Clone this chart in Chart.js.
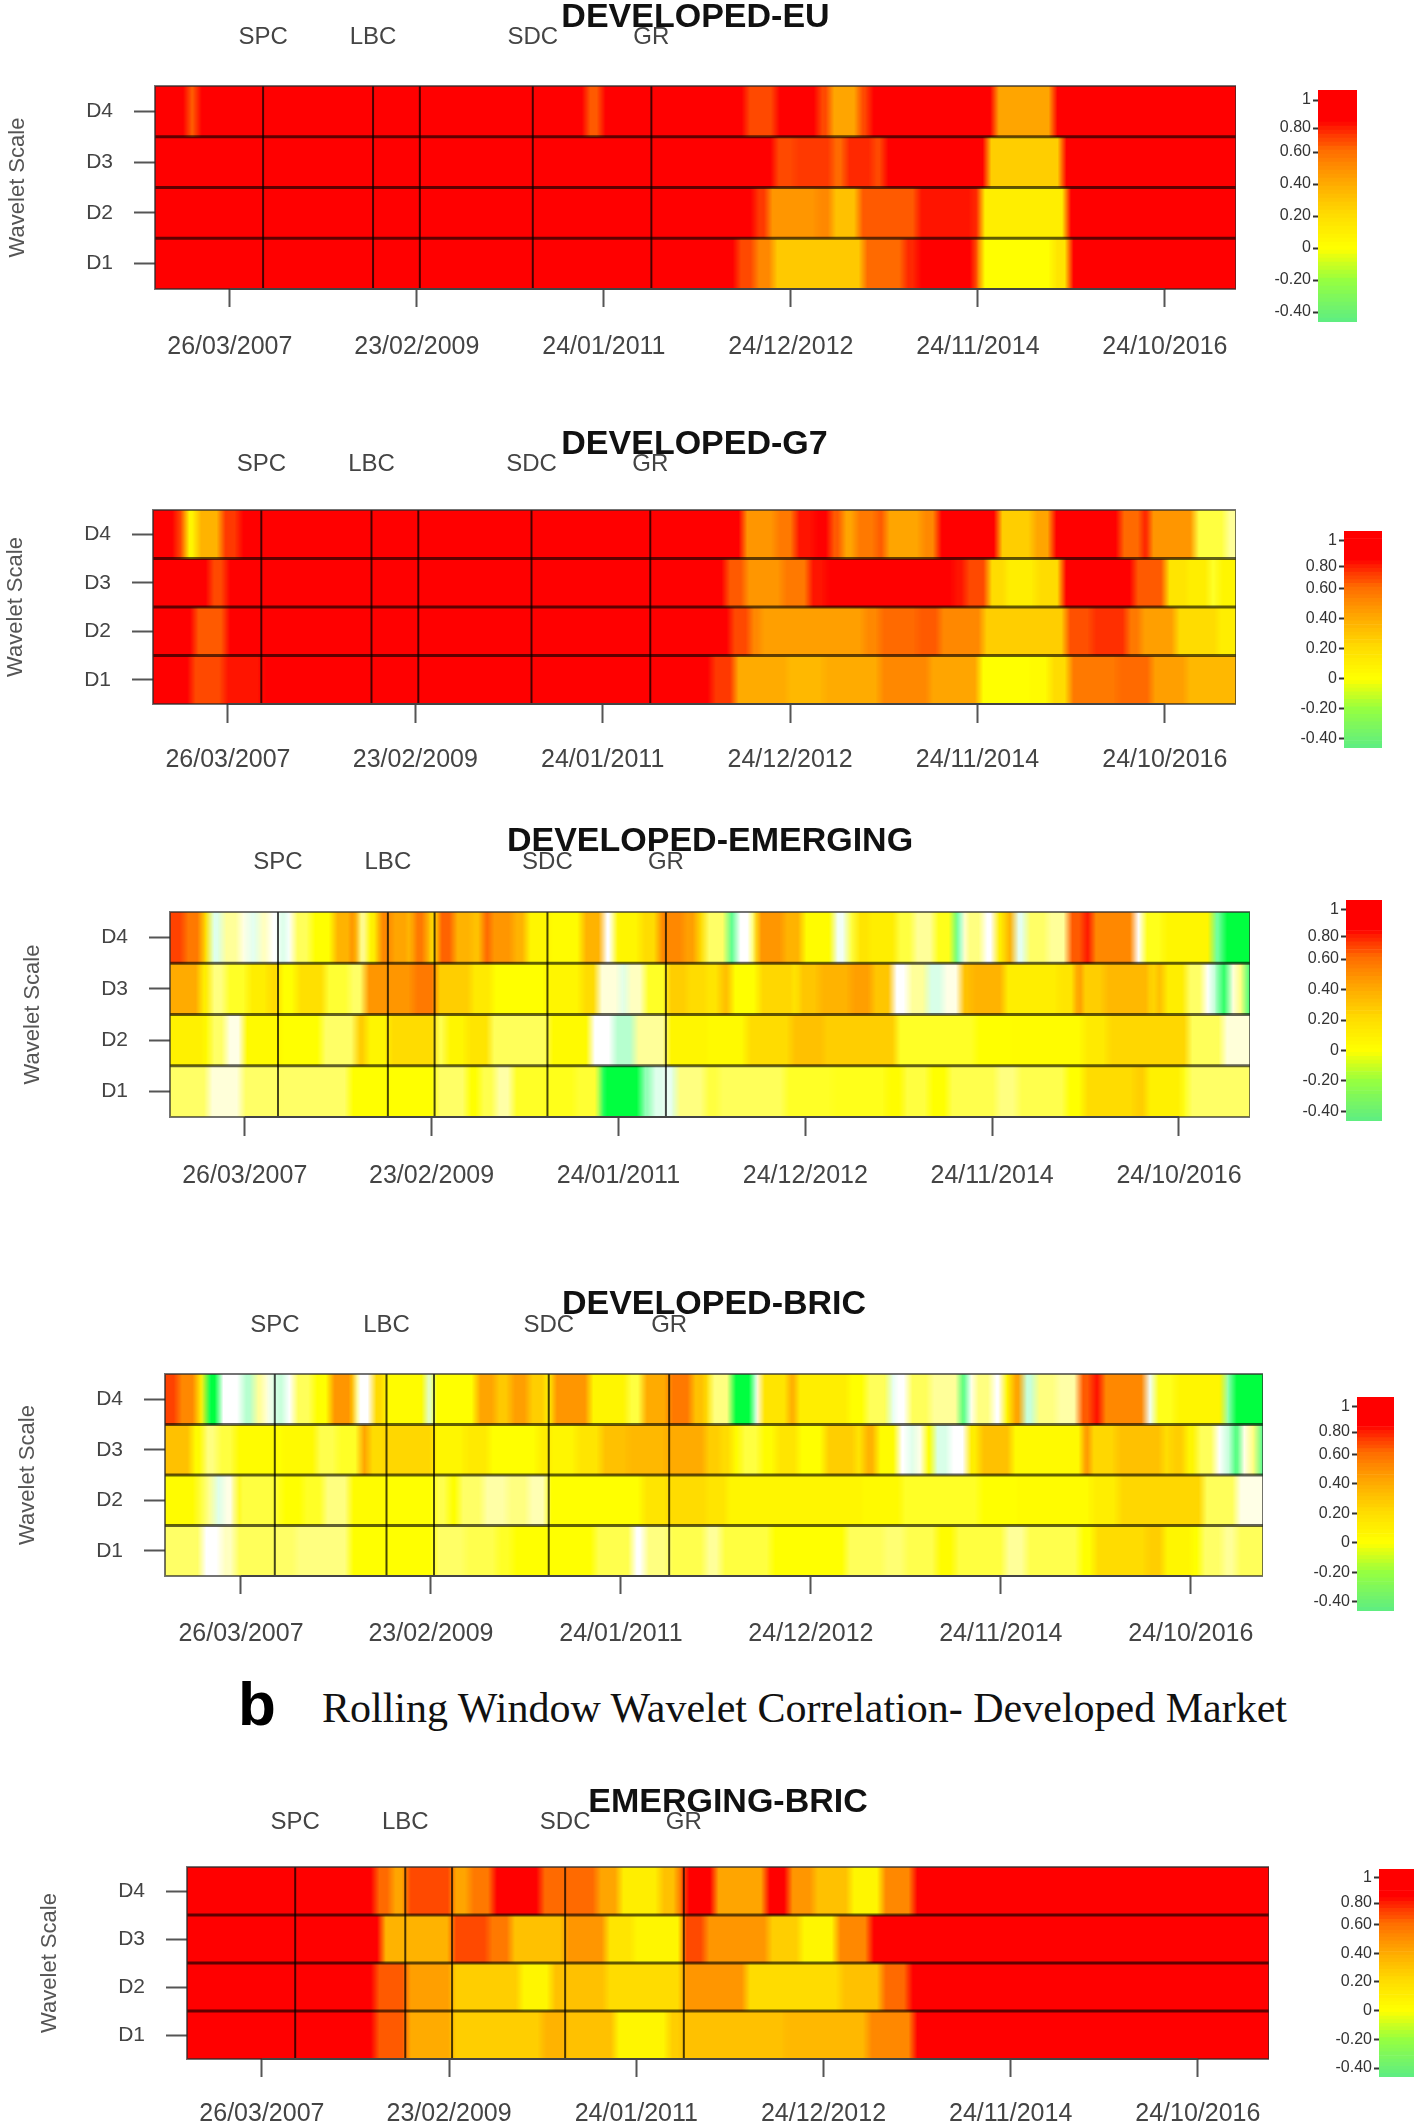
<!DOCTYPE html>
<html>
<head>
<meta charset="utf-8">
<title>Rolling Window Wavelet Correlation</title>
<script src="https://cdn.jsdelivr.net/npm/chart.js@4"></script>
<style>
  html, body { margin: 0; background: #fff; }
  #page { position: relative; width: 1418px; height: 2123px; overflow: hidden; }
  canvas { position: absolute; filter: blur(0.6px); }
  .mark { position: absolute; left: 238px; top: 1668px; font: bold 62px "Liberation Sans", sans-serif; color: #000; }
  .caption { position: absolute; left: 322px; top: 1684px; font: 42px "Liberation Serif", serif; color: #111; white-space: nowrap; }
</style>
</head>
<body>
<div id="page">
  <div class="mark">b</div>
  <div class="caption">Rolling Window Wavelet Correlation- Developed Market</div>
</div>
<script>
const obsCount = 2890;
const scaleLabels = ["D4", "D3", "D2", "D1"];
const xTickObs = [200, 700, 1200, 1700, 2200, 2700];
const xTickDates = ["26/03/2007", "23/02/2009", "24/01/2011", "24/12/2012", "24/11/2014", "24/10/2016"];
const eventObs = [289, 583, 708, 1010, 1327];
const eventNames = ["SPC", "LBC", "", "SDC", "GR"];

// correlation per block: a block runs from its start observation to the next start
const euD4Start = [0,87,114,1153,1194,1580,1660,1773,1805,1882,1911,2245,2402];
const euD4Corr = [1,.65,1,.65,1,.7,1,.7,.4,.7,1,.4,1];
const euD3Start = [0,1657,1713,1810,1846,1918,1950,2225,2426];
const euD3Corr = [1,.7,.75,.6,.8,.7,1,.25,1];
const euD2Start = [0,1604,1640,1773,1810,1882,2039,2184,2208,2438];
const euD2Corr = [1,.75,.45,.5,.3,.65,.85,.8,.1,1];
const euD1Start = [0,1556,1604,1653,1894,2003,2039,2191,2208,2402,2445];
const euD1Corr = [1,.7,.5,.27,.6,.8,1,.6,0,.15,1];

const g7D4Start = [0,63,86,118,183,231,1575,1663,1714,1765,1807,1839,1876,1932,1955,2052,2094,2256,2349,2400,2581,2641,2659,2780,2863];
const g7D4Corr = [1,.7,.05,.35,.75,1,.45,.55,.85,1,.65,.4,.55,.65,.4,.5,1,.25,.4,1,.6,.85,.45,-.05,-.12];
const g7D3Start = [0,152,195,267,1529,1580,1681,1751,1797,1871,1885,2062,2136,2168,2228,2275,2358,2426,2581,2618,2702,2757,2817,2845];
const g7D3Corr = [1,.7,.9,1,.65,.45,.55,.85,1,.9,1,.9,.85,.7,.2,.1,.2,1,.95,.65,.15,.1,-.03,.05];
const g7D2Start = [0,111,195,1542,1593,1621,1774,1899,1941,2043,2099,2214,2437,2507,2599,2636,2729,2840];
const g7D2Corr = [1,.65,.92,.7,.5,.42,.42,.5,.6,.65,.5,.25,.68,.78,.55,.42,.2,.1];
const g7D1Start = [0,103,190,292,1491,1552,1691,1793,1941,2071,2205,2349,2395,2446,2576,2664,2757];
const g7D1Corr = [1,.7,.85,1,.75,.38,.33,.38,.5,.4,0,.02,.2,.55,.6,.42,.33];

const emD4Start = [0,38,85,103,108,140,187,210,238,266,294,312,331,378,438,489,500,508,526,550,559,592,638,652,685,703,717,759,805,838,857,917,954,1015,1103,1159,1187,1196,1261,1308,1373,1410,1432,1492,1516,1558,1572,1641,1692,1776,1813,1837,1869,1944,1990,2046,2097,2116,2130,2176,2209,2236,2260,2292,2348,2404,2446,2467,2581,2604,2660,2790,2818];
const emD4Corr = [.72,.55,.2,-.02,-.25,-.12,-.18,-.24,-.15,-.2,-.26,-.2,-.07,0,.35,.55,.05,-.15,.05,.15,.5,.4,.3,.55,.3,.1,.62,.35,.3,.62,.45,.35,.05,.02,.35,-.2,-.02,.05,.2,.5,.42,.2,-.08,-.33,-.2,-.03,.45,.35,.02,-.22,-.05,.15,.1,-.05,-.12,-.02,-.33,-.2,-.1,-.2,.1,.35,-.24,-.08,-.12,.65,.85,.5,-.2,-.02,.05,-.32,-.4];
const emD3Start = [0,80,108,150,210,266,294,340,415,480,522,587,652,712,805,861,1010,1103,1145,1205,1224,1270,1331,1382,1432,1474,1502,1576,1669,1683,1739,1823,1878,1934,1976,2027,2069,2116,2148,2232,2381,2425,2439,2502,2622,2636,2660,2720,2767,2790,2808,2834,2855,2878];
const emD3Corr = [.38,.1,-.1,-.03,.1,.2,0,.18,-.04,-.08,.45,.45,.55,.25,.12,0,.05,.2,-.17,-.25,-.15,-.03,.25,.2,.15,.3,0,.22,.1,.28,.35,.42,.28,-.2,-.12,-.26,-.18,.3,.35,.1,.15,.5,.25,.33,.15,.3,.1,-.08,-.2,-.28,-.36,-.18,-.1,-.35];
const emD2Start = [0,89,108,150,196,294,406,498,526,587,712,740,796,857,1015,1126,1187,1243,1331,1432,1544,1664,1748,1944,2157,2260,2446,2511,2725,2818];
const emD2Corr = [.08,.02,-.08,-.18,.03,0,-.08,.25,.05,.2,-.06,.05,.15,-.07,.03,-.2,-.28,-.12,.05,.03,.2,.3,.25,-.03,0,.02,.12,.22,-.07,-.17];
const emD1Start = [0,103,192,294,480,587,712,796,829,871,917,1010,1084,1150,1159,1261,1289,1326,1336,1354,1432,1469,1646,1776,1920,1962,2032,2083,2213,2269,2399,2446,2585,2613,2706,2725];
const emD1Corr = [-.08,-.17,-.08,-.08,0,0,-.08,0,-.06,-.13,-.03,-.02,-.04,-.34,-.4,-.3,-.25,-.2,-.25,-.1,-.05,-.07,-.03,-.02,.02,-.05,0,-.06,-.1,-.06,0,.2,.25,.08,-.02,-.08];

const brD4Start = [0,34,84,107,111,143,203,235,262,280,294,317,340,390,436,495,504,546,578,687,706,820,870,911,957,1003,1021,1117,1217,1258,1327,1386,1422,1436,1492,1549,1568,1643,1661,1798,1845,1906,1920,1957,2014,2093,2112,2131,2178,2206,2229,2258,2291,2347,2406,2441,2466,2582,2605,2661,2788,2810];
const brD4Corr = [.72,.5,.1,-.3,-.4,-.2,-.28,-.12,-.18,-.25,-.27,-.2,-.07,0,.45,.05,-.2,.2,.02,-.25,0,.4,.27,.42,.25,.05,.45,.05,-.05,.38,.55,.3,.15,-.1,-.4,-.2,.15,.4,.1,0,-.07,-.25,-.2,-.07,-.12,-.35,-.2,-.1,-.2,.05,.4,-.27,-.1,-.13,.65,.85,.5,-.22,-.02,.05,-.3,-.4];
const brD3Start = [0,70,102,139,185,290,317,399,454,514,536,582,706,792,852,984,1012,1085,1149,1222,1322,1422,1460,1492,1516,1568,1610,1666,1737,1816,1840,1873,1929,1957,1976,2000,2023,2065,2112,2145,2228,2417,2434,2506,2624,2652,2685,2716,2765,2788,2812,2830,2854,2877];
const brD3Corr = [.3,.02,-.1,-.05,.02,0,.03,-.06,-.03,.4,.2,.22,.05,.12,0,.1,.05,.15,.3,.33,.38,.25,.2,.02,-.05,.02,.15,0,.25,.15,.35,.02,-.2,-.25,-.18,0,-.26,-.2,.1,.3,.03,.5,.22,.3,.2,.25,.05,-.07,-.2,-.27,-.36,-.18,-.1,-.33];
const brD2Start = [0,84,107,130,153,185,194,290,308,363,418,486,582,710,747,774,838,902,957,1007,1258,1327,1422,1478,1830,1938,2145,2253,2441,2511,2732,2821];
const brD2Corr = [.02,-.05,-.12,-.25,-.18,.02,-.05,-.03,0,-.03,-.1,.02,0,-.06,0,-.08,-.13,-.1,-.14,0,.15,.2,.15,.05,.03,-.03,0,.02,.1,.22,-.07,-.18];
const brD1Start = [0,98,148,185,290,344,486,582,710,792,875,916,1007,1131,1231,1263,1327,1422,1464,1596,1793,1892,1948,2032,2079,2211,2267,2408,2446,2586,2628,2699,2727,2784,2821];
const brD1Corr = [-.08,-.2,-.15,-.07,-.08,-.1,0,0,-.08,-.06,-.03,0,0,-.06,-.2,-.1,-.06,-.12,-.05,0,-.07,-.09,-.06,.02,-.05,-.12,-.06,0,.2,.25,.05,0,-.08,-.12,-.07];

const ebD4Start = [0,503,546,587,708,756,817,945,1010,1095,1155,1264,1312,1331,1409,1546,1607,1674,1771,1856,1940];
const ebD4Corr = [1,.6,.4,.7,.4,.55,.9,.6,.6,.4,.1,.3,.6,1,.4,1,.45,.3,.05,.5,1];
const ebD3Start = [0,520,587,708,805,865,1010,1119,1191,1324,1384,1553,1638,1735,1824];
const ebD3Corr = [1,.35,.35,.7,.55,.3,.45,.15,.05,.7,.45,.25,.05,.5,1];
const ebD2Start = [0,503,587,708,889,974,1010,1119,1324,1493,1747,1856,1928];
const ebD2Corr = [1,.65,.42,.25,.05,.3,.3,.2,.45,.2,.3,.6,1];
const ebD1Start = [0,503,587,708,950,1010,1143,1286,1324,1602,1819,1940];
const ebD1Corr = [1,.65,.38,.25,.35,.3,.05,.25,.3,.33,.5,1];

// colour bar levels, top to bottom, and the ones that carry a label
const legendLevels = [1.02,1.01,1,.97,.94,.91,.88,.85,.83,.8,.77,.73,.7,.67,.63,.6,.58,.55,.52,.5,.47,.45,.42,.4,.37,.35,.32,.3,.27,.25,.22,.2,.17,.15,.12,.1,.07,.05,.02,0,-.02,-.05,-.07,-.1,-.12,-.15,-.17,-.2,-.22,-.25,-.27,-.3,-.32,-.35,-.37,-.4,-.42,-.45];
const legendTicks = [1,.8,.6,.4,.2,0,-.2,-.4];
const legendTickText = ["1","0.80","0.60","0.40","0.20","0","-0.20","-0.40"];

const heatStops = [[-.4,[0,255,64]],[-.33,[96,255,144]],[-.26,[216,255,232]],[-.2,[255,255,255]],[-.1,[255,255,128]],[0,[255,255,0]],[.2,[255,220,0]],[.4,[255,165,0]],[.6,[255,106,0]],[.8,[255,40,0]],[.9,[255,0,0]],[1.1,[255,0,0]]];
const legendStops = [[-.45,[96,238,128]],[-.2,[150,255,64]],[0,[255,255,0]],[.2,[255,221,0]],[.4,[255,170,0]],[.6,[255,112,0]],[.8,[255,30,0]],[.85,[255,0,0]],[1.1,[255,0,0]]];

function colorFrom(stops, v) {
  let i = 1;
  while (i < stops.length - 1 && v > stops[i][0]) i++;
  const [a, ca] = stops[i - 1];
  const [b, cb] = stops[i];
  const t = Math.max(0, Math.min(1, (v - a) / (b - a)));
  const c = ca.map((x, k) => Math.round(x + (cb[k] - x) * t));
  return `rgb(${c[0]},${c[1]},${c[2]})`;
}

function rowDataset(label, starts, corr) {
  if (starts.length !== corr.length) throw new Error("length mismatch " + label);
  return {
    label: label,
    data: starts.map((s, i) => ({ x: [s, i + 1 < starts.length ? starts[i + 1] : obsCount], y: label })),
    backgroundColor: corr.map((v) => colorFrom(heatStops, v)),
    borderWidth: 0,
    grouped: false,
    categoryPercentage: 1,
    barPercentage: 1,
  };
}

// the source image is interpolated along time, so soften the blocks sideways only
function smoothBlocks(chart, radius) {
  const { ctx, canvas, chartArea: area } = chart;
  const w = Math.round(area.right - area.left);
  const h = Math.round(area.bottom - area.top);
  const copy = document.createElement("canvas");
  copy.width = w;
  copy.height = h;
  copy.getContext("2d").drawImage(canvas, area.left, area.top, w, h, 0, 0, w, h);
  ctx.save();
  ctx.beginPath();
  ctx.rect(area.left, area.top, w, h);
  ctx.clip();
  let n = 1;
  for (let d = -radius; d <= radius; d++) {
    ctx.globalAlpha = 1 / n;
    ctx.drawImage(copy, area.left + d, area.top);
    n++;
  }
  ctx.restore();
}

// event lines, row separators and the SPC/LBC/SDC/GR labels
const panelLines = {
  id: "panelLines",
  afterDatasetsDraw(chart, args, opts) {
    smoothBlocks(chart, 4);
    const { ctx, chartArea: area, scales: { x, y } } = chart;
    ctx.save();
    ctx.strokeStyle = "rgba(0,0,0,0.72)";
    ctx.lineWidth = 2;
    eventObs.forEach((o) => {
      const px = x.getPixelForValue(o);
      ctx.beginPath();
      ctx.moveTo(px, area.top);
      ctx.lineTo(px, area.bottom);
      ctx.stroke();
    });
    ctx.strokeStyle = "rgba(0,0,0,0.62)";
    ctx.lineWidth = 3;
    for (let i = 0; i < scaleLabels.length - 1; i++) {
      const py = (y.getPixelForValue(i) + y.getPixelForValue(i + 1)) / 2;
      ctx.beginPath();
      ctx.moveTo(area.left, py);
      ctx.lineTo(area.right, py);
      ctx.stroke();
    }
    ctx.lineWidth = 2;
    ctx.strokeStyle = "rgba(40,40,40,0.65)";
    ctx.strokeRect(area.left, area.top, area.right - area.left, area.bottom - area.top);
    ctx.strokeStyle = "#444";
    ctx.beginPath();
    ctx.moveTo(x.getPixelForValue(xTickObs[0]), area.bottom);
    ctx.lineTo(x.getPixelForValue(xTickObs[xTickObs.length - 1]), area.bottom);
    ctx.stroke();
    ctx.fillStyle = "#444";
    ctx.font = '24px "Liberation Sans"';
    ctx.textAlign = "center";
    ctx.textBaseline = "middle";
    eventObs.forEach((o, i) => {
      if (eventNames[i]) ctx.fillText(eventNames[i], x.getPixelForValue(o), opts.labelY);
    });
    ctx.restore();
  },
};

Chart.defaults.font.family = '"Liberation Sans", Arial, sans-serif';
Chart.defaults.animation = false;
Chart.defaults.responsive = false;

const page = document.getElementById("page");

function addCanvas(left, top, width, height) {
  const c = document.createElement("canvas");
  c.width = Math.round(width);
  c.height = Math.round(height);
  c.style.left = left + "px";
  c.style.top = top + "px";
  page.appendChild(c);
  return c;
}

function drawPanel(p) {
  const axisWidth = 155;
  const top = p.titleY - 17;
  const canvas = addCanvas(p.left - axisWidth, top, axisWidth + p.right - p.left, p.labelY + 30 - top);
  new Chart(canvas, {
    type: "bar",
    data: { labels: scaleLabels, datasets: p.rows },
    plugins: [panelLines],
    options: {
      indexAxis: "y",
      layout: { padding: 0 },
      scales: {
        x: {
          type: "linear",
          min: 0,
          max: obsCount,
          border: { display: false },
          grid: { drawOnChartArea: false, tickLength: p.tickEnd - p.bottom, tickColor: "#555", tickWidth: 2 },
          afterBuildTicks: (axis) => { axis.ticks = xTickObs.map((value) => ({ value })); },
          afterFit: (axis) => {
            axis.height = p.labelY + 30 - p.bottom;
            axis.paddingLeft = 0;
            axis.paddingRight = 0;
          },
          ticks: {
            autoSkip: false,
            maxRotation: 0,
            color: "#444",
            font: { size: 25 },
            padding: p.labelY - p.tickEnd - 13,
            callback: (value) => xTickDates[xTickObs.indexOf(value)],
          },
        },
        y: {
          border: { display: false },
          grid: { offset: false, drawOnChartArea: false, tickLength: 21, tickColor: "#555", tickWidth: 2 },
          afterFit: (axis) => { axis.width = axisWidth; },
          ticks: { color: "#444", font: { size: 21 }, padding: 21 },
          title: { display: true, text: "Wavelet Scale", color: "#555", font: { size: 22 }, padding: { top: 5, bottom: 0 } },
        },
      },
      plugins: {
        legend: { display: false },
        tooltip: { enabled: false },
        panelLines: { labelY: p.eventY - top },
        title: {
          display: true,
          text: p.title,
          fullSize: false,
          color: "#111",
          font: { size: 34, weight: "bold", lineHeight: 1 },
          padding: { top: 0, bottom: p.top - top - 34 },
        },
      },
    },
  });
}

function drawLegend(b) {
  const axisWidth = 58;
  const canvas = addCanvas(b.left - axisWidth, b.top - 12, axisWidth + b.width, b.height + 24);
  new Chart(canvas, {
    type: "bar",
    data: {
      labels: legendLevels.map(String),
      datasets: [{
        data: legendLevels.map(() => [0, 1]),
        backgroundColor: legendLevels.map((v) => colorFrom(legendStops, v)),
        borderWidth: 0,
        categoryPercentage: 1,
        barPercentage: 1,
      }],
    },
    options: {
      indexAxis: "y",
      layout: { padding: { top: 12, bottom: 12 } },
      scales: {
        x: { display: false, min: 0, max: 1 },
        y: {
          border: { display: false },
          grid: {
            offset: false,
            drawOnChartArea: false,
            tickLength: 5,
            tickWidth: 2,
            tickColor: (ctx) => (legendTicks.includes(legendLevels[ctx.index]) ? "#333" : "rgba(0,0,0,0)"),
          },
          afterFit: (axis) => { axis.width = axisWidth; },
          ticks: {
            autoSkip: false,
            color: "#333",
            padding: 2,
            font: { size: 16 },
            callback: (value, i) => {
              const k = legendTicks.indexOf(legendLevels[i]);
              return k < 0 ? "" : legendTickText[k];
            },
          },
        },
      },
      plugins: { legend: { display: false }, tooltip: { enabled: false } },
    },
  });
}

const rows = (d4s, d4c, d3s, d3c, d2s, d2c, d1s, d1c) => [
  rowDataset("D4", d4s, d4c),
  rowDataset("D3", d3s, d3c),
  rowDataset("D2", d2s, d2c),
  rowDataset("D1", d1s, d1c),
];

drawPanel({ title: "DEVELOPED-EU", left: 155, right: 1236, top: 86, bottom: 289, tickEnd: 307, titleY: 18, eventY: 37, labelY: 345,
  rows: rows(euD4Start, euD4Corr, euD3Start, euD3Corr, euD2Start, euD2Corr, euD1Start, euD1Corr) });
drawPanel({ title: "DEVELOPED-G7", left: 153, right: 1236, top: 510, bottom: 704, tickEnd: 723, titleY: 445, eventY: 464, labelY: 758,
  rows: rows(g7D4Start, g7D4Corr, g7D3Start, g7D3Corr, g7D2Start, g7D2Corr, g7D1Start, g7D1Corr) });
drawPanel({ title: "DEVELOPED-EMERGING", left: 170, right: 1250, top: 912, bottom: 1117, tickEnd: 1136, titleY: 842, eventY: 862, labelY: 1174,
  rows: rows(emD4Start, emD4Corr, emD3Start, emD3Corr, emD2Start, emD2Corr, emD1Start, emD1Corr) });
drawPanel({ title: "DEVELOPED-BRIC", left: 165, right: 1263, top: 1374, bottom: 1576, tickEnd: 1594, titleY: 1305, eventY: 1325, labelY: 1632,
  rows: rows(brD4Start, brD4Corr, brD3Start, brD3Corr, brD2Start, brD2Corr, brD1Start, brD1Corr) });
drawPanel({ title: "EMERGING-BRIC", left: 187, right: 1269, top: 1867, bottom: 2059, tickEnd: 2077, titleY: 1803, eventY: 1822, labelY: 2112,
  rows: rows(ebD4Start, ebD4Corr, ebD3Start, ebD3Corr, ebD2Start, ebD2Corr, ebD1Start, ebD1Corr) });

drawLegend({ left: 1318, top: 90, width: 39, height: 232 });
drawLegend({ left: 1344, top: 531, width: 38, height: 217 });
drawLegend({ left: 1346, top: 900, width: 36, height: 221 });
drawLegend({ left: 1357, top: 1397, width: 37, height: 214 });
drawLegend({ left: 1379, top: 1869, width: 35, height: 208 });
</script>
</body>
</html>
